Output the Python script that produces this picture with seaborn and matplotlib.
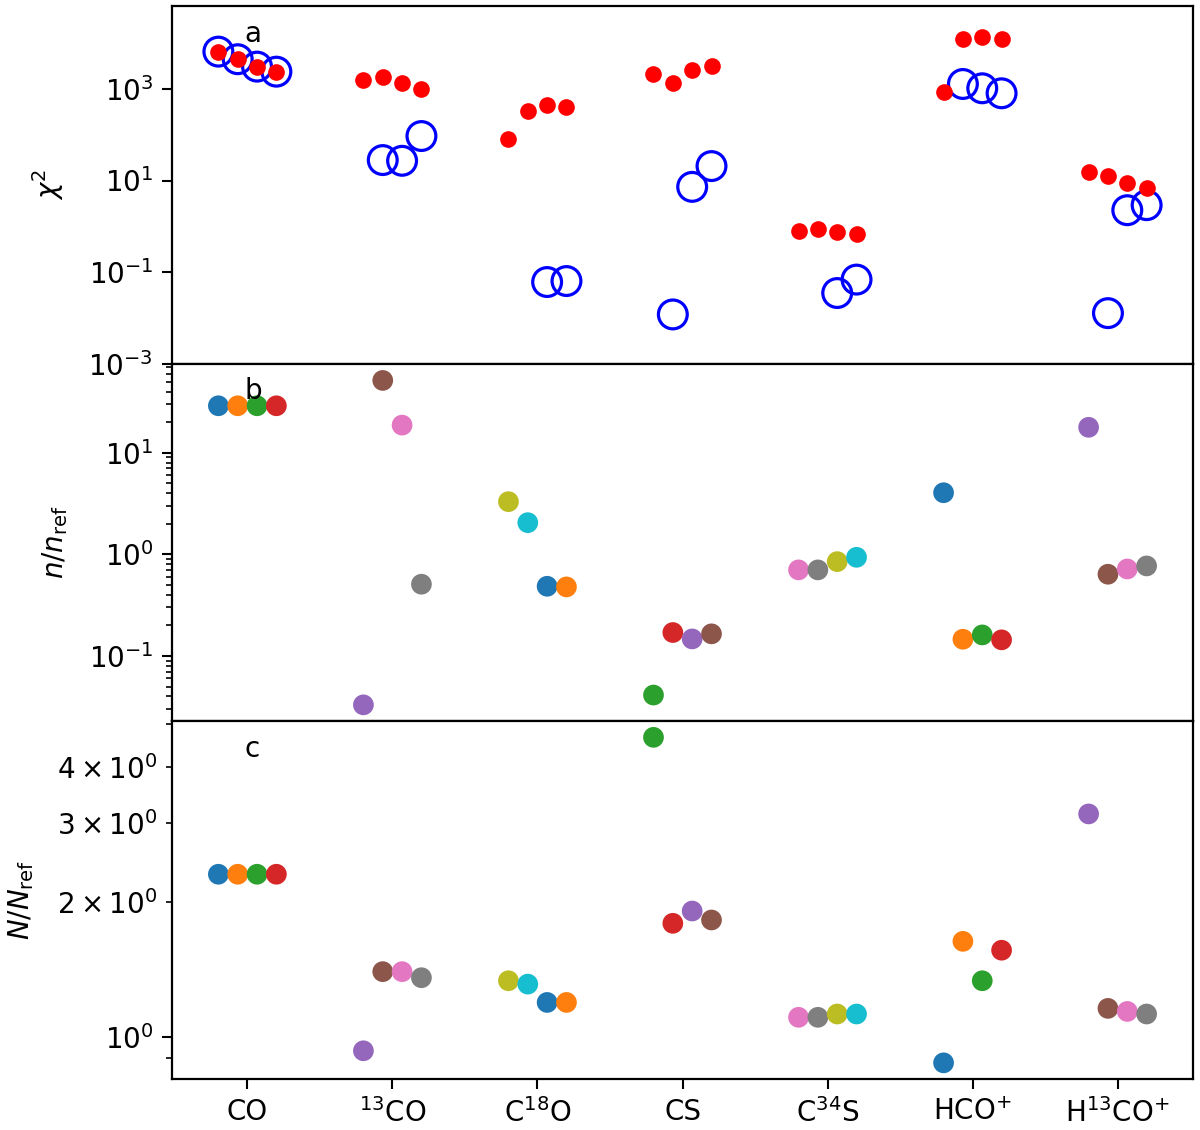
import numpy as np
import pandas as pd
import matplotlib
matplotlib.use("Agg")
import matplotlib.pyplot as plt
import matplotlib.ticker as mticker
from matplotlib.transforms import blended_transform_factory
import seaborn as sns

# ---------------- data ----------------
species = ["CO", r"$^{13}$CO", r"C$^{18}$O", "CS", r"C$^{34}$S", r"HCO$^{+}$", r"H$^{13}$CO$^{+}$"]

# panel a: chi^2, red filled points (4 per species)
chi2_red = [
    [6550, 4470, 3080, 2390],
    [1573, 1803, 1333, 985],
    [81.7, 330, 447, 404],
    [2100, 1374, 2606, 3141],
    [0.79, 0.895, 0.755, 0.682],
    [847, 12200, 13900, 12200],
    [15.5, 12.7, 8.65, 6.72],
]
# panel a: chi^2, blue open circles (nan = not shown)
chi2_blue = [
    [6550, 4470, 3080, 2390],
    [np.nan, 28.0, 27.0, 93.8],
    [np.nan, np.nan, 0.0607, 0.0638],
    [np.nan, 0.0119, 7.28, 20.7],
    [np.nan, np.nan, 0.0349, 0.0686],
    [np.nan, 1286, 1036, 805],
    [np.nan, 0.0127, 2.25, 2.90],
]
# panel b: n / n_ref
n_ratio = [
    [29.0, 29.0, 29.0, 29.0],
    [0.033, 51.5, 18.7, 0.508],
    [3.30, 2.05, 0.485, 0.478],
    [0.0412, 0.170, 0.147, 0.165],
    [0.703, 0.703, 0.848, 0.935],
    [4.04, 0.146, 0.161, 0.144],
    [17.8, 0.637, 0.718, 0.769],
]
# panel c: N / N_ref
N_ratio = [
    [2.31, 2.31, 2.31, 2.31],
    [0.932, 1.40, 1.40, 1.357],
    [1.336, 1.313, 1.195, 1.195],
    [4.67, 1.795, 1.912, 1.826],
    [1.107, 1.107, 1.126, 1.126],
    [0.876, 1.636, 1.336, 1.563],
    [3.15, 1.159, 1.141, 1.126],
]

# ---------------- build tidy frame ----------------
n_sub = 4
offsets = (np.arange(n_sub) - (n_sub - 1) / 2) * (0.4 / 3)
rows = []
k = 0
for i, sp in enumerate(species):
    for j in range(n_sub):
        rows.append(dict(x=i + offsets[j],
                         chi_red=chi2_red[i][j], chi_blue=chi2_blue[i][j],
                         n=n_ratio[i][j], N=N_ratio[i][j],
                         col=f"C{k % 10}"))
        k += 1
df = pd.DataFrame(rows)

tab10 = sns.color_palette("tab10", 10)
pal = {f"C{c}": tab10[c] for c in range(10)}

# ---------------- style ----------------
sns.set_theme(style="ticks")
FS = 20
plt.rcParams.update({
    "font.family": ["DejaVu Sans"],
    "font.size": FS,
    "axes.linewidth": 1.6,
    "axes.edgecolor": "black",
    "axes.labelcolor": "black",
    "xtick.color": "black",
    "ytick.color": "black",
    "text.color": "black",
    "xtick.labelsize": FS,
    "ytick.labelsize": FS,
    "axes.labelsize": FS,
    "xtick.major.size": 7,
    "ytick.major.size": 7,
    "xtick.major.width": 1.5,
    "ytick.major.width": 1.5,
    "ytick.minor.size": 4,
    "ytick.minor.width": 1.2,
    "xtick.major.pad": 6.5,
    "ytick.major.pad": 6.5,
    "ytick.minor.pad": 6.5,
    "mathtext.default": "it",
})

fig, axes = plt.subplots(3, 1, figsize=(12, 11.3), dpi=100, sharex=True)
fig.subplots_adjust(left=0.1433, right=0.9942, top=0.9947, bottom=0.0451, hspace=0)
axa, axb, axc = axes

# panel a
sns.scatterplot(data=df, x="x", y="chi_blue", ax=axa, marker="o", s=430,
                facecolors="none", edgecolor="#0000ff", linewidth=2.3, legend=False, zorder=2)
sns.scatterplot(data=df, x="x", y="chi_red", ax=axa, color="#ff0000", s=144,
                linewidth=0, legend=False, zorder=3)
axa.set_yscale("log")
axa.set_ylim(1e-3, 6.5e4)
axa.yaxis.set_major_locator(mticker.FixedLocator([1e-3, 1e-1, 1e1, 1e3]))
axa.yaxis.set_major_formatter(mticker.LogFormatterSciNotation())
axa.yaxis.set_minor_locator(mticker.NullLocator())
axa.set_ylabel(r"$\chi^2$")

# panel b
sns.scatterplot(data=df, x="x", y="n", hue="col", palette=pal, ax=axb, s=222,
                linewidth=0, legend=False)
axb.set_yscale("log")
axb.set_ylim(0.0227, 75.3)
axb.set_ylabel(r"$n/n_{\rm ref}$")

# panel c
sns.scatterplot(data=df, x="x", y="N", hue="col", palette=pal, ax=axc, s=222,
                linewidth=0, legend=False)
axc.set_yscale("log")
axc.set_ylim(0.806, 5.07)
axc.set_ylabel(r"$N/N_{\rm ref}$")

axa.yaxis.set_label_coords(-0.104, 0.5)
axb.yaxis.set_label_coords(-0.100, 0.5)
axc.yaxis.set_label_coords(-0.133, 0.5)

for ax, lab in zip(axes, ["a", "b", "c"]):
    trans = blended_transform_factory(ax.transData, ax.transAxes)
    ax.text(-0.02, 0.9, lab, transform=trans, ha="left", va="baseline", fontsize=FS)
    ax.set_xlabel("")

axc.set_xlim(-0.52, 6.52)
axc.set_xticks(range(len(species)))
axc.set_xticklabels(species)
for ax in (axa, axb):
    ax.tick_params(axis="x", bottom=False, labelbottom=False)

fig.savefig("out.png", dpi=100)
